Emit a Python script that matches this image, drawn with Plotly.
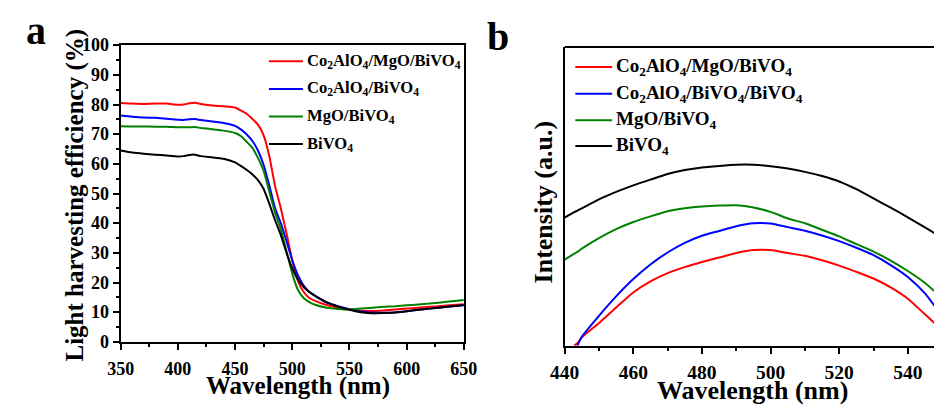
import plotly.graph_objects as go

# ---------------- Panel a data ----------------
wl_a = [350, 360, 370, 380, 390, 400, 405, 410, 415, 420, 430, 440, 450, 455, 460, 465, 470,
        475, 480, 485, 490, 495, 500, 505, 510, 515, 520, 530, 540, 550, 560, 570, 580, 590,
        600, 610, 620, 630, 640, 650]
lhe_red = [80.5, 80.3, 80.2, 80.3, 80.3, 79.9, 80.0, 80.4, 80.6, 80.2, 79.7, 79.4, 79.0, 78.0,
           76.9, 75.2, 73.2, 69.6, 62.5, 52.5, 45.0, 36.5, 27.5, 20.5, 16.8, 14.8, 13.8, 12.4,
           11.5, 10.9, 10.5, 10.4, 10.6, 10.9, 11.2, 11.5, 11.8, 12.1, 12.4, 12.7]
lhe_blue = [76.3, 75.9, 75.6, 75.5, 75.2, 74.9, 74.8, 75.0, 75.1, 74.8, 74.3, 73.8, 72.8, 71.6,
            70.0, 67.8, 64.5, 59.6, 52.6, 45.0, 40.0, 33.9, 27.5, 22.5, 19.0, 16.8, 15.5, 13.2,
            12.0, 11.0, 10.2, 9.8, 9.8, 9.9, 10.3, 10.8, 11.2, 11.6, 12.0, 12.4]
lhe_green = [72.7, 72.6, 72.6, 72.5, 72.5, 72.3, 72.3, 72.3, 72.4, 72.1, 71.7, 71.2, 70.4, 69.4,
             67.5, 65.5, 62.0, 57.6, 50.5, 43.5, 38.0, 30.5, 23.0, 17.5, 14.8, 13.4, 12.5, 11.5,
             11.1, 10.9, 11.2, 11.5, 11.8, 12.0, 12.3, 12.6, 12.9, 13.3, 13.7, 14.1]
lhe_black = [64.5, 63.8, 63.4, 63.1, 62.8, 62.5, 62.6, 63.0, 63.1, 62.6, 62.2, 61.7, 60.5, 59.3,
             58.0, 56.5, 54.5, 51.5, 46.5, 41.0, 36.0, 30.0, 24.8, 21.0, 18.5, 16.8, 15.5, 13.4,
             11.9, 10.8, 10.0, 9.6, 9.7, 9.9, 10.3, 10.8, 11.2, 11.6, 12.0, 12.3]

# ---------------- Panel b data ----------------
wl_b = [440, 442.8, 443.7, 445, 450, 455, 460, 465, 470, 475, 480, 485, 490, 495, 500, 505, 510,
        515, 520, 525, 530, 535, 540, 545, 548]
pl_red = [None, 0.0, 0.8, 2.8, 7.6, 12.8, 17.8, 21.5, 24.3, 26.3, 28.0, 29.5, 31.0, 32.0, 32.0,
          31.0, 30.1, 28.6, 26.8, 24.7, 22.5, 19.5, 15.7, 10.5, 7.3]
pl_blue = [None, None, 0.0, 3.0, 10.0, 16.5, 22.3, 27.2, 31.2, 34.4, 36.8, 38.4, 40.0, 41.0, 40.9,
           39.7, 38.5, 36.9, 35.0, 32.8, 30.3, 27.0, 23.0, 17.5, 13.0]
pl_green = [28.8, 30.8, 31.4, 32.5, 36.0, 39.0, 41.4, 43.3, 45.0, 46.0, 46.6, 46.9, 47.0, 46.3,
            44.8, 42.6, 41.0, 38.8, 36.6, 34.0, 31.5, 28.5, 25.0, 21.0, 18.0]
pl_black = [42.9, 44.7, 45.2, 46.0, 49.0, 51.5, 53.7, 55.6, 57.5, 58.8, 59.7, 60.2, 60.6, 60.6,
            60.1, 59.3, 58.2, 56.8, 55.0, 52.4, 49.3, 46.2, 43.0, 39.6, 37.5]

names_a = ["Co<sub>2</sub>AlO<sub>4</sub>/MgO/BiVO<sub>4</sub>",
           "Co<sub>2</sub>AlO<sub>4</sub>/BiVO<sub>4</sub>",
           "MgO/BiVO<sub>4</sub>", "BiVO<sub>4</sub>"]
names_b = ["Co<sub>2</sub>AlO<sub>4</sub>/MgO/BiVO<sub>4</sub>",
           "Co<sub>2</sub>AlO<sub>4</sub>/BiVO<sub>4</sub>/BiVO<sub>4</sub>",
           "MgO/BiVO<sub>4</sub>", "BiVO<sub>4</sub>"]
colors = ["#ff0000", "#0000ff", "#008000", "#000000"]

W, H = 948, 407
FONT = "Liberation Serif"


def px(x):
    return x / W


def py(y):
    return 1 - y / H


fig = go.Figure()
for ys, c, n in zip([lhe_red, lhe_blue, lhe_green, lhe_black], colors, names_a):
    fig.add_trace(go.Scatter(x=wl_a, y=ys, mode="lines",
                             line=dict(color=c, width=2, shape="spline", smoothing=0.5),
                             name=n, showlegend=False, xaxis="x", yaxis="y"))
for ys, c, n in zip([pl_red, pl_blue, pl_green, pl_black], colors, names_b):
    fig.add_trace(go.Scatter(x=wl_b, y=ys, mode="lines",
                             line=dict(color=c, width=2, shape="spline", smoothing=0.5),
                             name=n, showlegend=False, xaxis="x2", yaxis="y2"))

axcommon = dict(showline=True, linecolor="black", linewidth=2, ticks="outside", ticklen=6,
                tickwidth=2, tickcolor="black", showgrid=False, zeroline=False)
tf_a = dict(family=FONT, size=18, color="black", weight="bold")
tf_b = dict(family=FONT, size=19.5, color="black", weight="bold")

fig.update_layout(
    width=W, height=H, margin=dict(l=0, r=0, t=0, b=0),
    plot_bgcolor="white", paper_bgcolor="white", showlegend=False,
    xaxis=dict(domain=[px(109), px(463)], range=[350, 650], dtick=50, tick0=350,
               mirror=True, anchor="y", tickfont=tf_a, ticklabelstandoff=4,
               minor=dict(ticks="outside", dtick=25, ticklen=3, tickwidth=2, tickcolor="black"),
               **axcommon),
    yaxis=dict(domain=[py(349), py(37)], range=[0, 100], dtick=10, mirror=True, anchor="x",
               tickfont=tf_a,
               minor=dict(ticks="outside", dtick=5, ticklen=3, tickwidth=2, tickcolor="black"),
               **axcommon),
    xaxis2=dict(domain=[px(567), 1.0], range=[440, 440 + (948 - 567) / 3.54], dtick=20, tick0=440,
                anchor="y2", tickfont=tf_b, ticklabelstandoff=2,
                minor=dict(ticks="outside", dtick=10, ticklen=3, tickwidth=2, tickcolor="black"),
                **axcommon),
    yaxis2=dict(domain=[py(353), py(39)], range=[0, 100], showline=True, linecolor="black",
                linewidth=2, showticklabels=False, ticks="", showgrid=False, zeroline=False,
                anchor="x2"),
)

# top border of panel b
fig.add_shape(type="line", xref="x2 domain", yref="y2 domain", x0=0, x1=1, y0=1, y1=1,
              line=dict(color="black", width=2))

anns = []
tt_a = dict(family=FONT, size=25, color="black", weight="bold")
tt_b = dict(family=FONT, size=26, color="black", weight="bold")
anns.append(dict(text="Wavelength (nm)", x=px(292), y=py(395), xref="paper", yref="paper",
                 showarrow=False, font=tt_a, xanchor="center", yanchor="middle"))
anns.append(dict(text="Wavelength (nm)", x=px(761), y=py(400), xref="paper", yref="paper",
                 showarrow=False, font=tt_b, xanchor="center", yanchor="middle"))
anns.append(dict(text="Light harvesting efficiency (%)", x=px(62), y=py(195), xref="paper",
                 yref="paper", showarrow=False, font=tt_a, textangle=-90,
                 xanchor="center", yanchor="middle"))
anns.append(dict(text="Intensity (a.u.)", x=px(545), y=py(202), xref="paper",
                 yref="paper", showarrow=False, font=tt_b, textangle=-90,
                 xanchor="center", yanchor="middle"))
labfont = dict(family=FONT, size=40, color="black", weight="bold")
anns.append(dict(text="a", x=px(22), y=py(22), xref="paper", yref="paper", showarrow=False,
                 font=labfont, xanchor="center", yanchor="middle"))
anns.append(dict(text="b", x=px(498), y=py(28), xref="paper", yref="paper", showarrow=False,
                 font=labfont, xanchor="center", yanchor="middle"))

lf_a = dict(family=FONT, size=16.6, color="black", weight="bold")
lf_b = dict(family=FONT, size=19, color="black", weight="bold")
for i, (n, c) in enumerate(zip(names_a, colors)):
    yy = [54, 83, 112, 141][i]
    fig.add_shape(type="line", xref="paper", yref="paper", x0=px(262), x1=px(297),
                  y0=py(yy), y1=py(yy), line=dict(color=c, width=2))
    anns.append(dict(text=n, x=px(299), y=py(yy), xref="paper", yref="paper", showarrow=False,
                     font=lf_a, xanchor="left", yanchor="middle"))
for i, (n, c) in enumerate(zip(names_b, colors)):
    yy = [60, 88, 116, 143][i]
    fig.add_shape(type="line", xref="paper", yref="paper", x0=px(578), x1=px(616),
                  y0=py(yy), y1=py(yy), line=dict(color=c, width=2))
    anns.append(dict(text=n, x=px(618), y=py(yy), xref="paper", yref="paper", showarrow=False,
                     font=lf_b, xanchor="left", yanchor="middle"))

fig.update_layout(annotations=anns)
fig.write_html("out.html")
